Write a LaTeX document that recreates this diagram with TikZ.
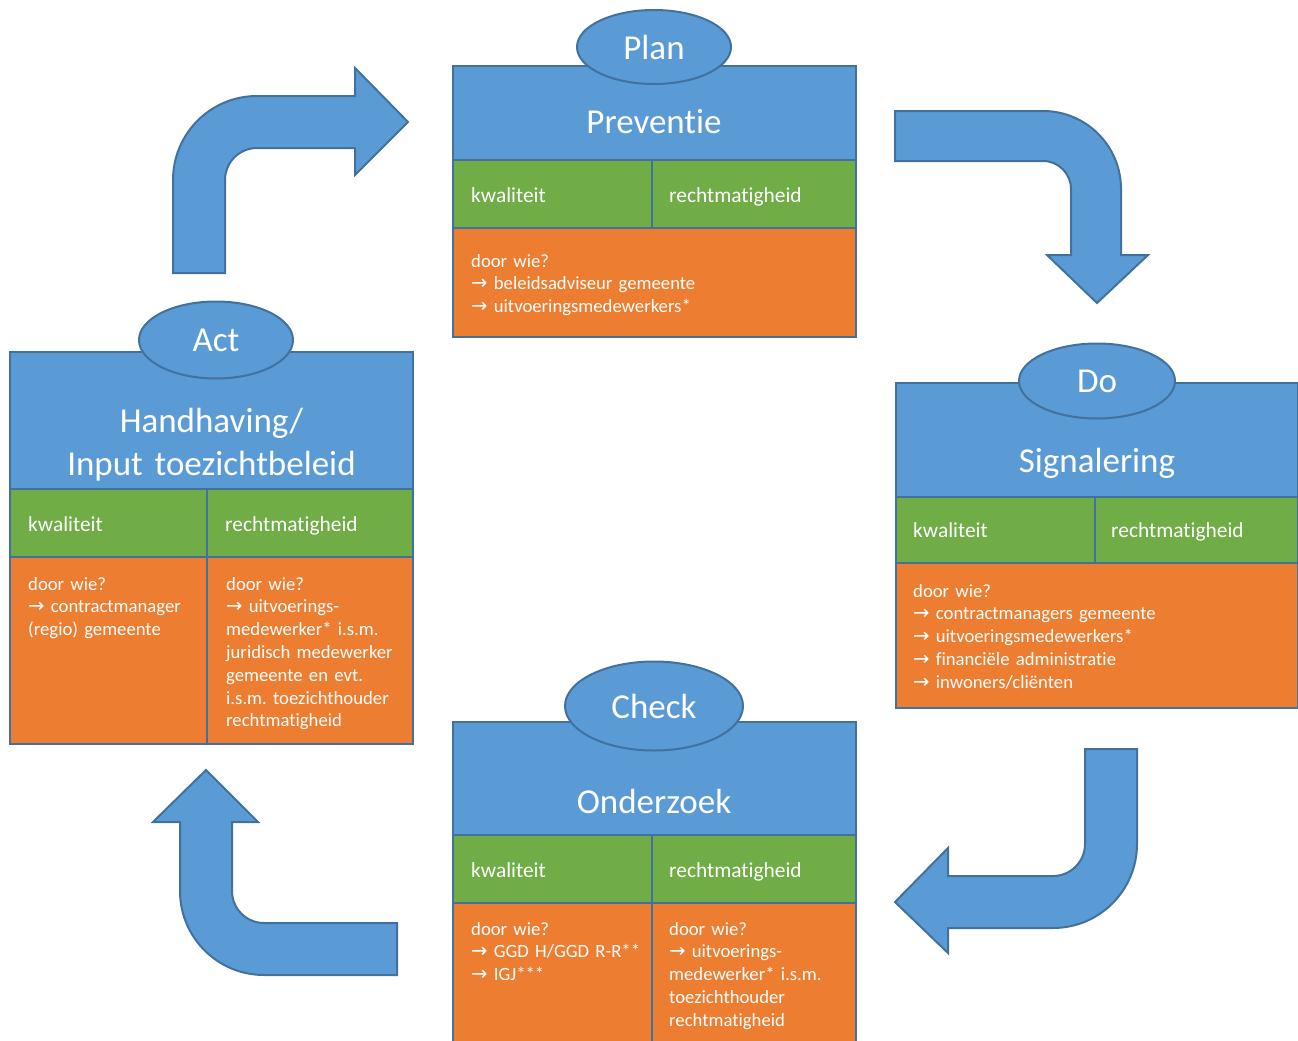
\documentclass[tikz,border=0pt]{standalone}
\usepackage{fontspec}
\setmainfont{Carlito}[Ligatures={NoCommon,NoContextual}]
\newfontfamily\arrowfont{DejaVu Sans}[Scale=1.05]
\usetikzlibrary{shapes.geometric}
\definecolor{pblue}{HTML}{5B9BD5}
\definecolor{pborder}{HTML}{41719C}
\definecolor{pgreen}{HTML}{70AD47}
\definecolor{porange}{HTML}{ED7D31}
\newcommand{\pdcaarrow}{{\arrowfont →}\ }
\frenchspacing
\begin{document}
\begin{tikzpicture}[x=1pt,y=-1pt,
  box/.style={draw=pborder, line width=2pt, anchor=north west, inner sep=0pt, outer sep=0pt},
  headbox/.style={box, fill=pblue},
  greenbox/.style={box, fill=pgreen},
  orangebox/.style={box, fill=porange},
  phase/.style={ellipse, draw=pborder, line width=2pt, fill=pblue, text=white, font=\fontsize{35}{42}\selectfont, inner sep=0pt},
  title/.style={text=white, font=\fontsize{35}{43}\selectfont\frenchspacing, align=center, text width=390pt, anchor=base, inner sep=0pt},
  label/.style={text=white, font=\fontsize{21.4}{26}\selectfont, anchor=base west, inner sep=0pt},
  who/.style={text=white, font=\fontsize{18.7}{22.8}\selectfont\frenchspacing, align=left, anchor=base west, inner sep=0pt},
  bigarrow/.style={draw=pborder, line width=2pt, fill=pblue, line join=miter}
]
\useasboundingbox (0,0) rectangle (1298,1041);
\clip (0,0) rectangle (1298,1041);

% ---- arrows
\draw[bigarrow] (173,273) -- (173,180) arc[start angle=180, end angle=270, radius=84] -- (355,96) -- (355,68) -- (408,122) -- (355,175) -- (355,148) -- (257,148) arc[start angle=270, end angle=180, radius=32] -- (225,273) -- cycle;
\draw[bigarrow] (895,111) -- (1043,111) arc[start angle=270, end angle=360, radius=78] -- (1121,255) -- (1148,255) -- (1097,303) -- (1047,255) -- (1071,255) -- (1071,189) arc[start angle=0, end angle=-90, radius=28] -- (895,161) -- cycle;
\draw[bigarrow] (1085,749) -- (1137,749) -- (1137,844) arc[start angle=0, end angle=90, radius=84] -- (948,928) -- (948,953) -- (895,902) -- (948,848) -- (948,876) -- (1053,876) arc[start angle=90, end angle=0, radius=32] -- cycle;
\draw[bigarrow] (397,923) -- (264,923) arc[start angle=90, end angle=180, radius=32] -- (232,822) -- (258,822) -- (206,770) -- (153,822) -- (180,822) -- (180,891) arc[start angle=180, end angle=90, radius=84] -- (397,975) -- cycle;

% ---- Plan
\node[headbox, minimum width=403pt, minimum height=94pt] (planhead) at (453,66) {};
\node[greenbox, minimum width=199pt, minimum height=68pt] (plangl) at (453,160) {};
\node[greenbox, minimum width=204pt, minimum height=68pt] (plangr) at (652,160) {};
\node[orangebox, minimum width=403pt, minimum height=109pt] (planor) at (453,228) {};
\node[title] (plantitle) at (654,133) {Preventie};
\node[label] (planlk) at (471,202) {kwaliteit};
\node[label] (planlr) at (669,202) {rechtmatigheid};
\node[who, text width=380pt] (planwho) at (471,267) {door wie?\\ \pdcaarrow beleidsadviseur gemeente\\ \pdcaarrow uitvoeringsmedewerkers*};
\node[phase, minimum width=154pt, minimum height=74pt] (plan) at (654,47) {Plan};

% ---- Act
\node[headbox, minimum width=403pt, minimum height=137pt] (acthead) at (10,352) {};
\node[greenbox, minimum width=197pt, minimum height=68pt] (actgl) at (10,489) {};
\node[greenbox, minimum width=206pt, minimum height=68pt] (actgr) at (207,489) {};
\node[orangebox, minimum width=197pt, minimum height=187pt] (actol) at (10,557) {};
\node[orangebox, minimum width=206pt, minimum height=187pt] (actor) at (207,557) {};
\node[title] (acttitle) at (211.5,432) {Handhaving/\\Input toezichtbeleid};
\node[label] (actlk) at (28,531) {kwaliteit};
\node[label] (actlr) at (225,531) {rechtmatigheid};
\node[who, text width=178pt] (actwhol) at (28,590) {door wie?\\ \pdcaarrow contractmanager\\ (regio) gemeente};
\node[who, text width=185pt] (actwhor) at (226,590) {door wie?\\ \pdcaarrow uitvoerings-\\ medewerker* i.s.m.\\ juridisch medewerker\\ gemeente en evt.\\ i.s.m. toezichthouder\\ rechtmatigheid};
\node[phase, minimum width=154pt, minimum height=77pt] (act) at (216,340) {Act};

% ---- Do
\node[headbox, minimum width=402pt, minimum height=114pt] (dohead) at (896,383) {};
\node[greenbox, minimum width=199pt, minimum height=66pt] (dogl) at (896,497) {};
\node[greenbox, minimum width=203pt, minimum height=66pt] (dogr) at (1095,497) {};
\node[orangebox, minimum width=402pt, minimum height=145pt] (door) at (896,563) {};
\node[title] (dotitle) at (1097,472) {Signalering};
\node[label] (dolk) at (913,537) {kwaliteit};
\node[label] (dolr) at (1111,537) {rechtmatigheid};
\node[who, text width=370pt] (dowho) at (913,597) {door wie?\\ \pdcaarrow contractmanagers gemeente\\ \pdcaarrow uitvoeringsmedewerkers*\\ \pdcaarrow financiële administratie\\ \pdcaarrow inwoners/cliënten};
\node[phase, minimum width=156pt, minimum height=75pt] (do) at (1097,381) {Do};

% ---- Check
\node[headbox, minimum width=403pt, minimum height=113pt] (checkhead) at (453,722) {};
\node[greenbox, minimum width=199pt, minimum height=68pt] (checkgl) at (453,835) {};
\node[greenbox, minimum width=204pt, minimum height=68pt] (checkgr) at (652,835) {};
\node[orangebox, minimum width=199pt, minimum height=160pt] (checkol) at (453,903) {};
\node[orangebox, minimum width=204pt, minimum height=160pt] (checkor) at (652,903) {};
\node[title] (checktitle) at (654,813) {Onderzoek};
\node[label] (checklk) at (471,877) {kwaliteit};
\node[label] (checklr) at (669,877) {rechtmatigheid};
\node[who, text width=180pt] (checkwhol) at (471,935) {door wie?\\ \pdcaarrow GGD H/GGD R-R**\\ \pdcaarrow IGJ***};
\node[who, text width=180pt] (checkwhor) at (669,935) {door wie?\\ \pdcaarrow uitvoerings-\\ medewerker* i.s.m.\\ toezichthouder\\ rechtmatigheid};
\node[phase, minimum width=178pt, minimum height=89pt] (check) at (654,706) {Check};
\end{tikzpicture}
\end{document}
